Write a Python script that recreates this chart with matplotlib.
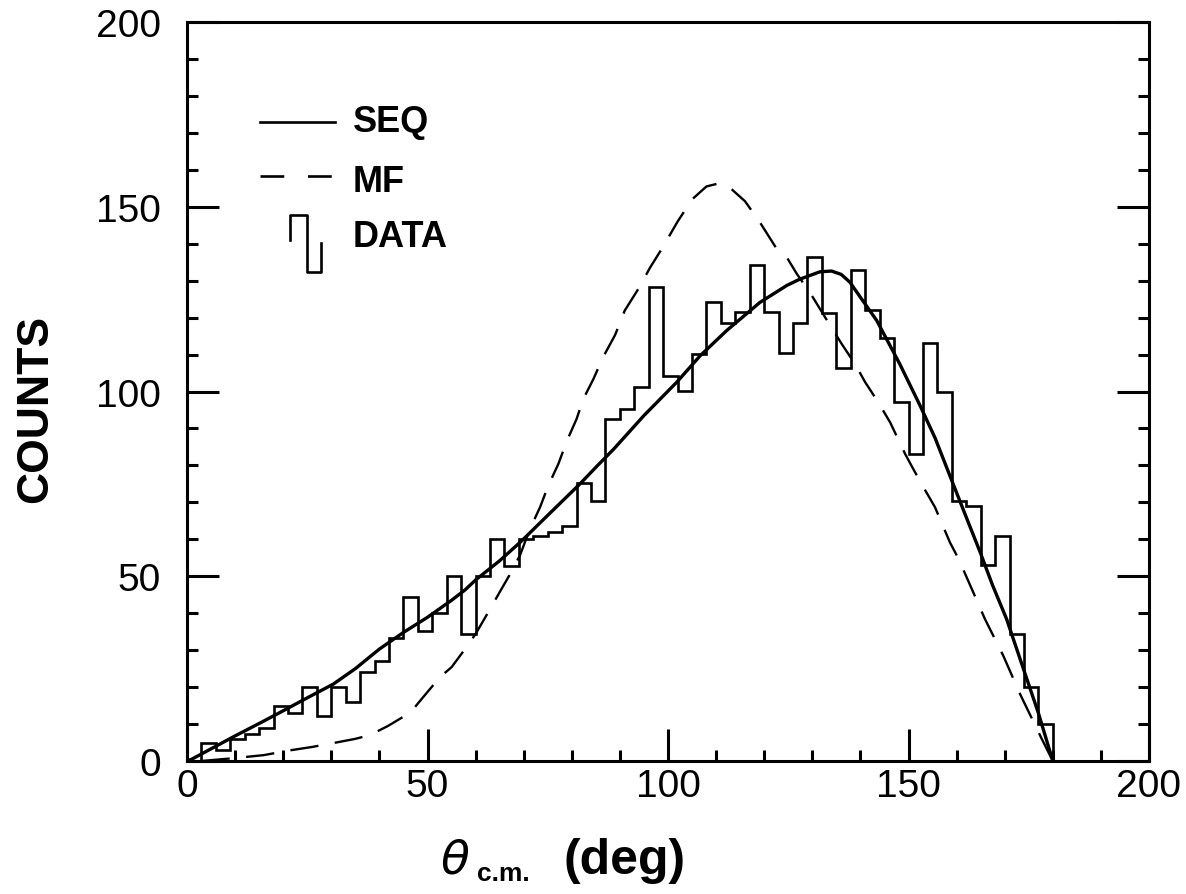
import numpy as np
import matplotlib
matplotlib.use('Agg')
import matplotlib.pyplot as plt

# histogram of data, 3 degree bins from 0 to 180
bin_edges = np.arange(0, 183, 3)
data_counts = [0, 5, 3, 6, 7.3, 9, 15, 13, 20, 12.3,
               20, 16, 24, 27, 33.4, 44.3, 35.3, 40, 50, 34.4,
               50, 60, 52.7, 60, 61, 62, 63.5, 75.2, 70.4, 92.5,
               95.3, 101.2, 128.2, 104.1, 100.2, 110.1, 124.3, 118.5, 121.4, 134.2,
               121.4, 110.3, 118.5, 136.3, 121.2, 106.4, 133, 122, 114.4, 97.1,
               83.1, 113.1, 100, 70.3, 69, 53, 61, 34.4, 20, 10]

# SEQ curve (solid)
seq_theta = [0, 1, 5, 10, 15.5, 20, 25, 30.4, 35, 40, 45, 50, 55, 57.8, 60, 65,
             69.6, 75, 81.7, 85, 88.7, 95, 101.8, 106.7, 112.2, 119.1, 124.7, 127.4,
             131.6, 134, 136, 137.8, 140, 143.4, 148.2, 152.4, 155.5, 159, 162,
             164.9, 167.5, 170.4, 173.9, 177, 180]
seq_counts = [0, 0.5, 3.3, 6.8, 10.5, 13.6, 17.1, 20.8, 25, 30.3, 34.8, 38.9, 43.5, 46.3, 49, 54.2,
              59.6, 66.5, 75, 79.5, 84.4, 93.5, 102.5, 109.7, 116.5, 124.1, 128.7, 130.4,
              132.4, 132.6, 131.7, 129.6, 125.5, 119.2, 107.4, 96.2, 87.5, 75.9, 66,
              56.5, 47.5, 38.4, 24.9, 13, 0]

# MF curve (dashed)
mf_theta = [3, 10, 16, 21, 26, 31.4, 35, 38, 41.8, 45, 47, 50, 52.6, 55, 57.8, 60,
            63, 65, 67, 69.2, 71.3, 73.4, 75.1, 77.2, 79, 81, 82.4, 84.5, 86.5, 89,
            91, 93.8, 96.3, 98.7, 102, 105, 108, 110.5, 113, 116, 119, 122.6, 124.7,
            126.8, 129.5, 132.8, 136.1, 138.9, 141, 143.7, 146.2, 149.3, 151, 152.7,
            155.5, 158.6, 160.4, 162.4, 165.9, 169.7, 173.2, 177.7, 180]
mf_counts = [0, 0.8, 1.6, 2.8, 3.8, 5.1, 6, 7, 9.5, 12, 14, 18.7, 22.7, 25.4, 30.3, 34.4,
             41.1, 45.7, 50.2, 55.6, 62.8, 68.7, 74.5, 80.4, 86.7, 92.6, 98, 103.4, 109.3, 115.3,
             121.9, 127.7, 133.6, 138.6, 146, 152, 155.5, 156.3, 155, 151.5, 146, 138.6, 136.3,
             131.8, 126.8, 119.8, 112.9, 107.4, 102.5, 97.1, 91.6, 83.1, 79, 75,
             68.7, 59.2, 54.7, 48.8, 38.4, 28.5, 18.1, 6, 0]

x_ticks = [0, 50, 100, 150, 200]
y_ticks = [0, 50, 100, 150, 200]

fig = plt.figure(figsize=(11.86, 8.95), dpi=100)
ax = fig.add_axes([0.1577, 0.1486, 0.8111, 0.8257])

ax.stairs(data_counts, bin_edges, color='black', linewidth=1.9)
ax.plot(seq_theta, seq_counts, color='black', linewidth=2.4)
ax.plot(mf_theta, mf_counts, color='black', linewidth=1.7, dashes=(12, 7))

ax.set_xlim(0, 200)
ax.set_ylim(0, 200)
ax.set_xticks(x_ticks)
ax.set_yticks(y_ticks)
ax.set_xticks(np.arange(0, 201, 10), minor=True)
ax.set_yticks(np.arange(0, 201, 10), minor=True)
ax.tick_params(which='both', direction='in', left=True, right=True, bottom=True, top=False,
               width=2.2, labelsize=28, labelfontfamily='Liberation Sans')
ax.tick_params(which='major', length=23)
ax.tick_params(which='minor', length=8)
ax.tick_params(axis='x', pad=5)
ax.tick_params(axis='y', pad=19)
for s in ax.spines.values():
    s.set_linewidth(2.2)

# legend drawn by hand
tr = ax.transAxes
ax.plot([0.0759, 0.1538], [0.8647, 0.8647], color='black', linewidth=1.9, transform=tr)
ax.plot([0.0759, 0.1538], [0.7916, 0.7916], color='black', linewidth=1.9, transform=tr,
        dashes=(9, 9))
ax.plot([0.1071, 0.1071, 0.1247, 0.1247, 0.1393, 0.1393],
        [0.705, 0.7388, 0.7388, 0.6617, 0.6617, 0.701],
        color='black', linewidth=1.9, transform=tr)
for label, yy in [('SEQ', 0.8647), ('MF', 0.7835), ('DATA', 0.7104)]:
    ax.text(0.1726, yy, label, transform=tr, fontsize=26, fontweight='bold',
            family='Liberation Sans', va='center', ha='left')

# axis labels
fig.text(0.030, 0.543, 'COUNTS', rotation=90, fontsize=32, fontweight='bold',
         family='Liberation Sans', ha='center', va='center')
fig.text(0.3837, 0.0380, r'$\theta$', fontsize=34, ha='center', va='center')
fig.text(0.4241, 0.0240, 'c.m.', fontsize=19, fontweight='bold',
         family='Liberation Sans', ha='center', va='center')
fig.text(0.527, 0.0380, '(deg)', fontsize=36, fontweight='bold',
         family='Liberation Sans', ha='center', va='center')

fig.savefig('out.png', dpi=100)
